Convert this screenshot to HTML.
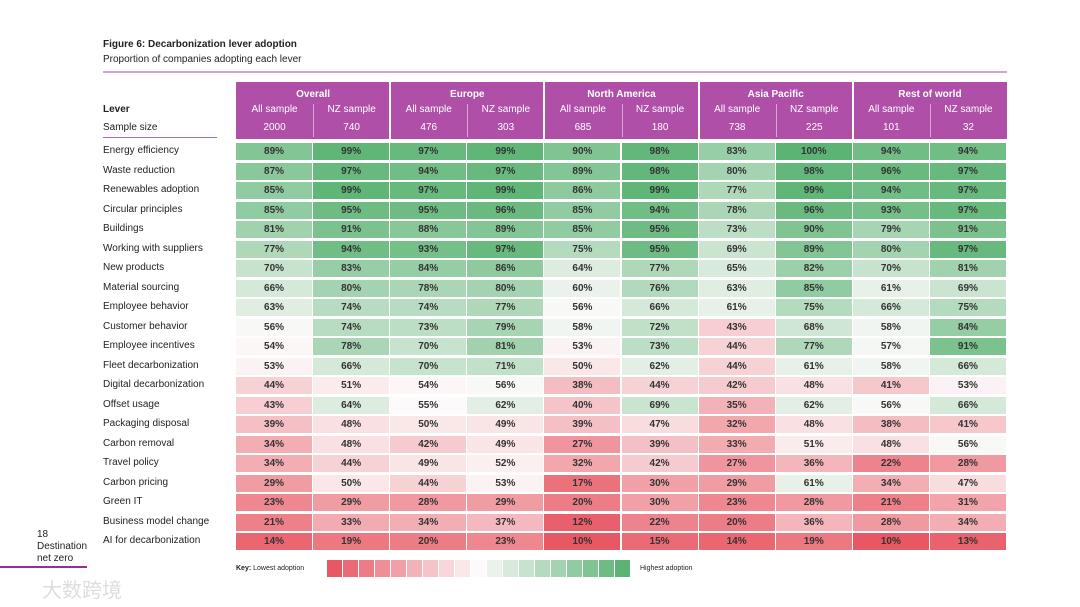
<!DOCTYPE html>
<html><head><meta charset="utf-8">
<style>
body{margin:0;width:1080px;height:607px;background:#fff;position:relative;overflow:hidden;font-family:"Liberation Sans",sans-serif;color:#222}
.a{position:absolute;white-space:nowrap}
.cell{position:absolute;font-size:10px;font-weight:bold;text-align:center;line-height:17px;color:#333}
.hd{position:absolute;color:#fff;text-align:center;font-size:10px}
</style></head><body>
<div class="a" style="left:103px;top:39px;font-size:10px;font-weight:bold">Figure 6: Decarbonization lever adoption</div>
<div class="a" style="left:103px;top:54px;font-size:10px">Proportion of companies adopting each lever</div>
<div class="a" style="left:103px;top:71px;width:904px;height:2px;background:#cfa6d3"></div>
<div class="a" style="left:103px;top:104px;font-size:10px;font-weight:bold">Lever</div>
<div class="a" style="left:103px;top:122px;font-size:10px">Sample size</div>
<div class="a" style="left:103px;top:137px;width:114px;height:1px;background:#b070b0"></div>
<div class="a" style="left:236px;top:82px;width:771px;height:57px;background:#b04fa8"></div>
<div class="a" style="left:37px;top:529px;font-size:10px;line-height:12px">18<br>Destination<br>net zero</div>
<div class="a" style="left:0;top:566px;width:87px;height:2px;background:#9b2a9b"></div>
<div class="a" style="left:42px;top:574px;font-size:20px;color:#ddd;font-family:'Liberation Sans','Noto Sans CJK SC',sans-serif">大数跨境</div>
<div class="a" style="left:236px;top:565px;font-size:7px"><b>Key:</b> Lowest adoption</div>
<div class="a" style="left:640px;top:565px;font-size:7px">Highest adoption</div>
<div id="root"></div>
<script>
const regions=["Overall","Europe","North America","Asia Pacific","Rest of world"];
const sampleSizes=[2000,740,476,303,685,180,738,225,101,32];
const levers=["Energy efficiency","Waste reduction","Renewables adoption","Circular principles","Buildings","Working with suppliers","New products","Material sourcing","Employee behavior","Customer behavior","Employee incentives","Fleet decarbonization","Digital decarbonization","Offset usage","Packaging disposal","Carbon removal","Travel policy","Carbon pricing","Green IT","Business model change","AI for decarbonization"];
const values=[
[89,99,97,99,90,98,83,100,94,94],
[87,97,94,97,89,98,80,98,96,97],
[85,99,97,99,86,99,77,99,94,97],
[85,95,95,96,85,94,78,96,93,97],
[81,91,88,89,85,95,73,90,79,91],
[77,94,93,97,75,95,69,89,80,97],
[70,83,84,86,64,77,65,82,70,81],
[66,80,78,80,60,76,63,85,61,69],
[63,74,74,77,56,66,61,75,66,75],
[56,74,73,79,58,72,43,68,58,84],
[54,78,70,81,53,73,44,77,57,91],
[53,66,70,71,50,62,44,61,58,66],
[44,51,54,56,38,44,42,48,41,53],
[43,64,55,62,40,69,35,62,56,66],
[39,48,50,49,39,47,32,48,38,41],
[34,48,42,49,27,39,33,51,48,56],
[34,44,49,52,32,42,27,36,22,28],
[29,50,44,53,17,30,29,61,34,47],
[23,29,28,29,20,30,23,28,21,31],
[21,33,34,37,12,22,20,36,28,34],
[14,19,20,23,10,15,14,19,10,13]];
const keySteps=[10,15,20,25,30,35,40,45,50,55,60,65,70,75,80,85,90,95,100];
const X0=236,CW=77.1,Y0=143,RH=19.5;
function color(v){
  const mid=55;let c0,c1,t;
  if(v<mid){t=(mid-v)/45;c1=[232,88,100];}else{t=(v-mid)/45;c1=[92,180,116];}
  t=Math.min(1,Math.max(0,t));
  const w=[252,250,250];
  return `rgb(${w.map((x,i)=>Math.round(x+(c1[i]-x)*t)).join(',')})`;
}
const root=document.getElementById('root');
function add(cls,css,txt){const d=document.createElement('div');d.className=cls;d.style.cssText=css;if(txt!==undefined)d.textContent=txt;root.appendChild(d);return d;}
regions.forEach((r,g)=>{
  const el=add('hd',`left:${X0+g*2*CW}px;top:89px;width:${2*CW}px;font-weight:bold`,r);
  
  
  if(g>0){const s=add('a',`left:${X0+g*2*CW-1}px;top:82px;width:2px;height:57px;background:#fff`);
  
  }
  const s2=add('a',`left:${X0+(g*2+1)*CW}px;top:104px;width:1px;height:33px;background:#d9a5d5`);
  
  
});
sampleSizes.forEach((n,c)=>{
  const h=add('hd',`left:${X0+c*CW}px;top:104px;width:${CW}px`,c%2?"NZ sample":"All sample");
  
  
  const s=add('hd',`left:${X0+c*CW}px;top:122px;width:${CW}px`,n);
  
  
});
levers.forEach((l,r)=>{
  const y=Y0+r*RH;
  const lab=add('a',`left:103px;top:${y+2}px;font-size:10px`,l);
  
  
  values[r].forEach((v,c)=>{
    const cell=add('cell',`left:${X0+c*CW}px;top:${y}px;width:${CW-1}px;height:17px;background:${color(v)}`,v+'%');
    
    
  });
});
keySteps.forEach((v,i)=>{
  const k=add('a',`left:${327+i*16}px;top:560px;width:15px;height:17px;background:${color(v)}`);
  
  
});
</script>
</body></html>
